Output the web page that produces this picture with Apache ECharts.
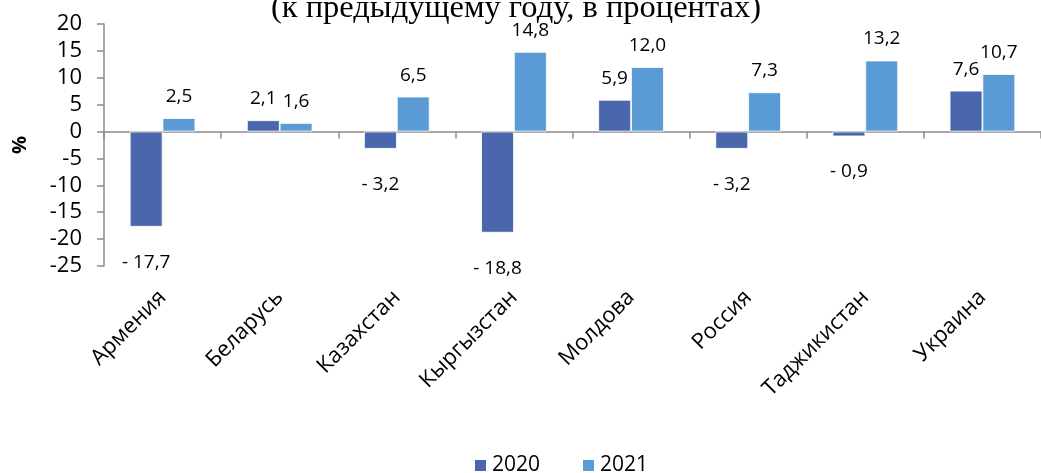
<!DOCTYPE html>
<html>
<head>
<meta charset="utf-8">
<script src="https://cdn.jsdelivr.net/npm/echarts@6/dist/echarts.min.js"></script>
<style>
html,body{margin:0;padding:0;background:#fff;}
#c{width:1041px;height:473px;}
</style>
</head>
<body>
<div id="c"></div>
<script>
const categories = ['Армения','Беларусь','Казахстан','Кыргызстан','Молдова','Россия','Таджикистан','Украина'];
const series2020 = [-17.7, 2.1, -3.2, -18.8, 5.9, -3.2, -0.9, 7.6];
const series2021 = [2.5, 1.6, 6.5, 14.8, 12.0, 7.3, 13.2, 10.7];
const seriesNames = ['2020', '2021'];
const titleText = '(к предыдущему году, в процентах)';
const yTicks = {min: -25, max: 20, interval: 5};

const fmt = v => (v < 0 ? '- ' + Math.abs(v).toFixed(1) : v.toFixed(1)).replace('.', ',');
const FONT = 'Open Sans';

function labelled(vals) {
  return vals.map(v => ({
    value: v,
    label: {
      position: v < 0 ? 'bottom' : 'top',
      distance: v < 0 ? 26 : 12
    }
  }));
}

const chart = echarts.init(document.getElementById('c'));
chart.setOption({
  animation: false,
  title: {
    text: titleText,
    left: 511, textAlign: 'center', top: -13,
    textStyle: {fontFamily: 'Liberation Serif', fontSize: 32.5, fontWeight: 'normal', color: '#000'}
  },
  legend: {
    data: seriesNames,
    left: 468, top: 450,
    itemWidth: 13, itemHeight: 13, itemGap: 41,
    icon: 'rect',
    textStyle: {fontFamily: FONT, fontSize: 21, color: '#000'}
  },
  grid: {left: 104, right: -11, top: 24, bottom: 207},
  xAxis: [
    {
      type: 'category', data: categories,
      position: 'bottom',
      axisLine: {show: false, onZero: false},
      axisTick: {show: false},
      axisLabel: {rotate: 45, margin: 28, fontFamily: FONT, fontSize: 22, color: '#000', interval: 0}
    },
    {
      type: 'category', data: categories,
      position: 'bottom',
      axisLine: {show: true, onZero: true, lineStyle: {color: '#8c8c8c', width: 1.5}},
      axisTick: {show: true, inside: false, length: 7, lineStyle: {color: '#8c8c8c', width: 1.5}},
      axisLabel: {show: false}
    }
  ],
  yAxis: {
    type: 'value',
    min: yTicks.min, max: yTicks.max, interval: yTicks.interval,
    name: '%', nameLocation: 'middle', nameGap: 74, nameRotate: 90,
    nameTextStyle: {fontFamily: FONT, fontSize: 20, fontWeight: 'bold', color: '#000'},
    axisLine: {show: true, lineStyle: {color: '#8c8c8c', width: 1.5}},
    axisTick: {show: true, length: 7, lineStyle: {color: '#8c8c8c', width: 1.5}},
    splitLine: {show: false},
    axisLabel: {fontFamily: FONT, fontSize: 22, color: '#000', margin: 22}
  },
  series: [
    {
      name: seriesNames[0], type: 'bar', xAxisIndex: 0,
      data: labelled(series2020),
      barGap: '0%', barCategoryGap: '44%',
      itemStyle: {color: '#4a66ac', borderColor: '#fff', borderWidth: 0.8},
      label: {show: true, formatter: p => fmt(p.value), fontFamily: FONT, fontSize: 19, color: '#000'}
    },
    {
      name: seriesNames[1], type: 'bar', xAxisIndex: 0,
      data: labelled(series2021),
      barGap: '0%', barCategoryGap: '44%',
      itemStyle: {color: '#5b9bd5', borderColor: '#fff', borderWidth: 0.8},
      label: {show: true, formatter: p => fmt(p.value), fontFamily: FONT, fontSize: 19, color: '#000'}
    }
  ]
});
</script>
</body>
</html>
